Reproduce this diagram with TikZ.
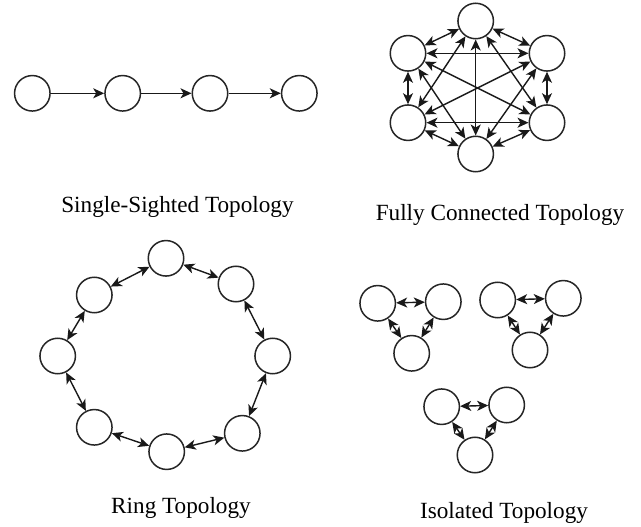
\documentclass[tikz,border=0pt]{standalone}
\usepackage{fontspec}
\setmainfont{Liberation Serif}
\usetikzlibrary{arrows.meta}
\begin{document}
\begin{tikzpicture}[x=1pt,y=-1pt,
  nd/.style={circle,draw=black!85,line width=1.5pt,minimum size=35.5pt,inner sep=0pt,fill=white},
  tip/.tip={Stealth[length=11pt,width=10pt,inset=3pt]},
  one/.style={-tip,line width=1.4pt,black!90},
  two/.style={tip-tip,line width=1.4pt,black!90},
  lab/.style={anchor=base,font=\fontsize{23.2}{26}\selectfont,inner sep=0pt}]
\useasboundingbox (0,0) rectangle (641,527);
% Single-sighted
\node[nd] (s1) at (32.3,93.3) {};
\node[nd] (s2) at (122.7,93.3) {};
\node[nd] (s3) at (210,93.3) {};
\node[nd] (s4) at (299.3,93.3) {};
\draw[one] (s1) -- (s2);
\draw[one] (s2) -- (s3);
\draw[one] (s3) -- (s4);
\node[lab] (t1) at (177.5,212.5) {Single-Sighted Topology};
% Fully connected
\node[nd] (f1) at (475.7,21) {};
\node[nd] (f2) at (547,53.3) {};
\node[nd] (f3) at (547,122.7) {};
\node[nd] (f4) at (475.7,154) {};
\node[nd] (f5) at (408,122.7) {};
\node[nd] (f6) at (408,53.3) {};
\foreach \a/\b in {f1/f2,f2/f3,f3/f4,f4/f5,f5/f6,f6/f1,f1/f3,f1/f4,f1/f5,f2/f4,f2/f5,f2/f6,f3/f5,f3/f6,f4/f6}
  \draw[two] (\a) -- (\b);
\node[lab] (t2) at (500,220) {Fully Connected Topology};
% Ring
\node[nd] (r1) at (166,258.3) {};
\node[nd] (r2) at (236,284) {};
\node[nd] (r3) at (272.7,356) {};
\node[nd] (r4) at (242.3,433.3) {};
\node[nd] (r5) at (166.7,451.7) {};
\node[nd] (r6) at (94.3,427.3) {};
\node[nd] (r7) at (57.7,356) {};
\node[nd] (r8) at (94.3,295) {};
\foreach \a/\b in {r1/r2,r2/r3,r3/r4,r4/r5,r5/r6,r6/r7,r7/r8,r8/r1}
  \draw[two] (\a) -- (\b);
\node[lab] (t3) at (181,513) {Ring Topology};
% Isolated
\node[nd] (a1) at (377.7,303.3) {};
\node[nd] (a2) at (443.3,301.7) {};
\node[nd] (a3) at (411.7,353.3) {};
\node[nd] (b1) at (497.7,300) {};
\node[nd] (b2) at (563.3,298.3) {};
\node[nd] (b3) at (530,350) {};
\node[nd] (c1) at (441.7,406.7) {};
\node[nd] (c2) at (506.7,405) {};
\node[nd] (c3) at (475,455) {};
\foreach \a/\b in {a1/a2,a1/a3,a2/a3,b1/b2,b1/b3,b2/b3,c1/c2,c1/c3,c2/c3}
  \draw[two] (\a) -- (\b);
\node[lab] (t4) at (504,518) {Isolated Topology};
\end{tikzpicture}
\end{document}
